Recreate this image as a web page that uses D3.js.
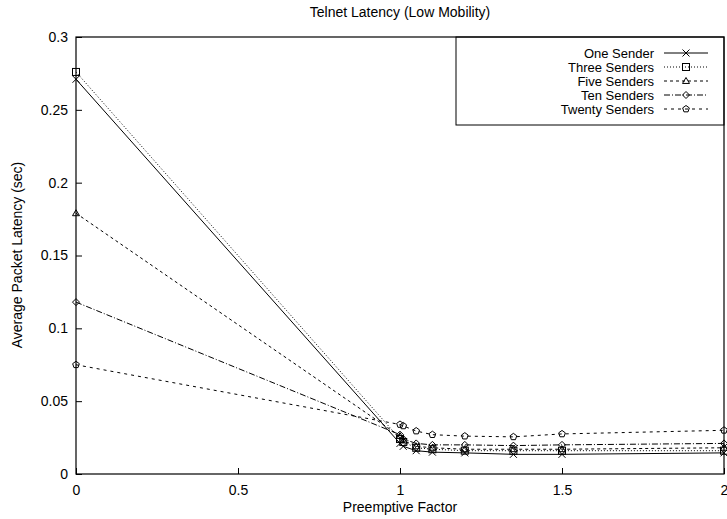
<!DOCTYPE html>
<html>
<head>
<meta charset="utf-8">
<script src="https://cdn.jsdelivr.net/npm/d3@7"></script>
<style>
  body { margin: 0; background: #fff; }
  svg text { font-family: "Liberation Sans", Arial, sans-serif; font-size: 14px; fill: #000; }
</style>
</head>
<body>
<svg id="chart" width="727" height="519"></svg>
<script>
const factors = [0, 1, 1.01, 1.05, 1.1, 1.2, 1.35, 1.5, 2];
const oneSender = [0.271, 0.021, 0.019, 0.016, 0.015, 0.0145, 0.0135, 0.0135, 0.0145];
const threeSenders = [0.276, 0.024, 0.022, 0.018, 0.017, 0.016, 0.016, 0.016, 0.016];
const fiveSenders = [0.179, 0.026, 0.023, 0.019, 0.018, 0.017, 0.017, 0.017, 0.018];
const tenSenders = [0.118, 0.027, 0.024, 0.021, 0.020, 0.020, 0.0195, 0.020, 0.021];
const twentySenders = [0.075, 0.034, 0.033, 0.0295, 0.027, 0.026, 0.0255, 0.0275, 0.030];
const xTicks = [0, 0.5, 1, 1.5, 2];
const yTicks = [0, 0.05, 0.1, 0.15, 0.2, 0.25, 0.3];

const series = [
  { name: "One Sender", values: oneSender, dash: null, marker: "cross" },
  { name: "Three Senders", values: threeSenders, dash: "1,2", marker: "square" },
  { name: "Five Senders", values: fiveSenders, dash: "3,3", marker: "triangle" },
  { name: "Ten Senders", values: tenSenders, dash: "6,2,1,2", marker: "diamond" },
  { name: "Twenty Senders", values: twentySenders, dash: "3,4", marker: "pentagon" }
];

const plotLeft = 76, plotRight = 724, plotTop = 37, plotBottom = 474;
const svg = d3.select("#chart");
const x = d3.scaleLinear().domain([0, 2]).range([plotLeft, plotRight]);
const y = d3.scaleLinear().domain([0, 0.3]).range([plotBottom, plotTop]);
const font = "Liberation Sans, Arial, sans-serif";

// point symbols, gnuplot style
function drawMarker(g, type, cx, cy) {
  const s = 3.5;
  if (type === "cross") {
    g.append("path").attr("d", `M${cx - s},${cy - s}L${cx + s},${cy + s}M${cx - s},${cy + s}L${cx + s},${cy - s}`);
  } else if (type === "square") {
    g.append("rect").attr("x", cx - s).attr("y", cy - s).attr("width", 2 * s).attr("height", 2 * s);
  } else if (type === "triangle") {
    g.append("path").attr("d", `M${cx},${cy - s}L${cx + s},${cy + s * 0.7}L${cx - s},${cy + s * 0.7}Z`);
  } else if (type === "diamond") {
    g.append("path").attr("d", `M${cx},${cy - s}L${cx + s},${cy}L${cx},${cy + s}L${cx - s},${cy}Z`);
  } else {
    const pts = d3.range(5).map(i => {
      const a = -Math.PI / 2 + i * 2 * Math.PI / 5;
      return [cx + s * Math.cos(a), cy + s * Math.sin(a)];
    });
    g.append("path").attr("d", "M" + pts.join("L") + "Z");
  }
}

// frame
svg.append("rect").attr("x", plotLeft).attr("y", plotTop).attr("width", plotRight - plotLeft).attr("height", plotBottom - plotTop)
  .attr("fill", "none").attr("stroke", "#000").attr("stroke-width", 1.2);

// axes (ticks point inward)
const yAxis = d3.axisRight(y).tickValues(yTicks).tickSize(6).tickFormat(d3.format("~g"));
const yg = svg.append("g").attr("transform", `translate(${plotLeft},0)`).call(yAxis);
yg.select(".domain").remove();
yg.selectAll("text").attr("x", -8).attr("text-anchor", "end").style("font-size", "14px").style("font-family", font);

const xAxis = d3.axisTop(x).tickValues(xTicks).tickSize(6).tickFormat(d3.format("~g"));
const xg = svg.append("g").attr("transform", `translate(0,${plotBottom})`).call(xAxis);
xg.select(".domain").remove();
xg.selectAll("text").attr("y", 11).attr("dy", "0.71em").style("font-size", "14px").style("font-family", font);

// titles
svg.append("text").attr("x", 400).attr("y", 17).attr("text-anchor", "middle").text("Telnet Latency (Low Mobility)");
svg.append("text").attr("x", 400).attr("y", 512).attr("text-anchor", "middle").text("Preemptive Factor");
svg.append("text").attr("transform", "translate(22,255) rotate(-90)").attr("text-anchor", "middle").text("Average Packet Latency (sec)");

// series
const line = d3.line().x((d, i) => x(factors[i])).y(d => y(d));
series.forEach(s => {
  svg.append("path").datum(s.values).attr("d", line)
    .attr("fill", "none").attr("stroke", "#000").attr("stroke-width", 1)
    .attr("stroke-dasharray", s.dash);
  const mg = svg.append("g").attr("fill", "none").attr("stroke", "#000").attr("stroke-width", 1);
  s.values.forEach((v, i) => drawMarker(mg, s.marker, x(factors[i]), y(v)));
});

// legend
const legend = svg.append("g");
legend.append("rect").attr("x", 456).attr("y", plotTop).attr("width", plotRight - 456).attr("height", 88)
  .attr("fill", "none").attr("stroke", "#000").attr("stroke-width", 1);
series.forEach((s, i) => {
  const ly = 53 + i * 14;
  legend.append("text").attr("x", 654).attr("y", ly).attr("dy", "0.35em").attr("text-anchor", "end")
    .style("font-size", "13px").text(s.name);
  legend.append("line").attr("x1", 664).attr("x2", 708).attr("y1", ly).attr("y2", ly)
    .attr("stroke", "#000").attr("stroke-dasharray", s.dash);
  const mg = legend.append("g").attr("fill", "none").attr("stroke", "#000");
  drawMarker(mg, s.marker, 686, ly);
});
</script>
</body>
</html>
